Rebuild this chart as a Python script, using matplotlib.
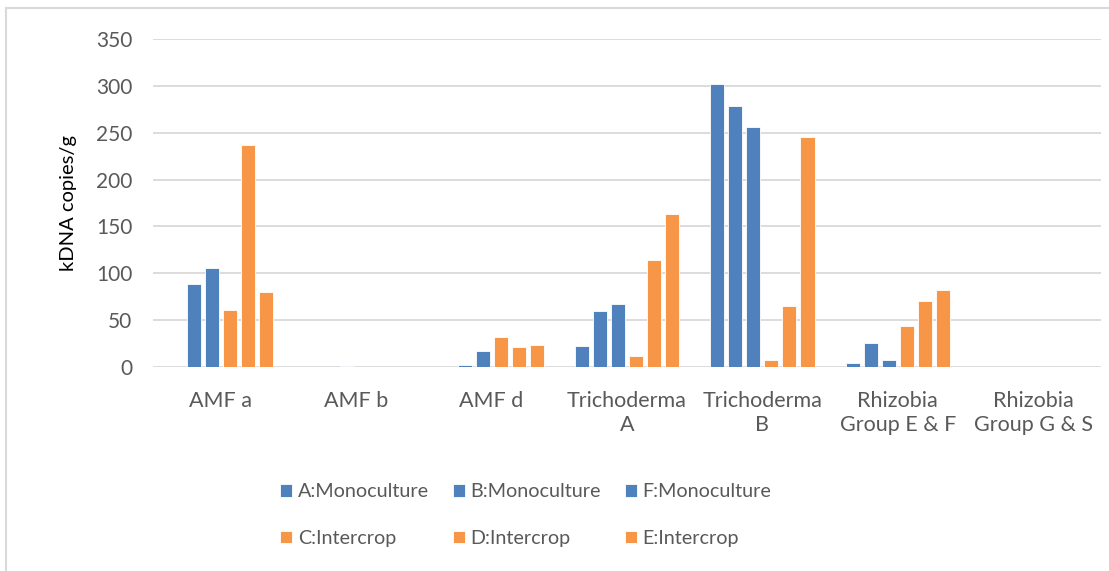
import matplotlib.pyplot as plt
import numpy as np

# Target groups along the x axis
categories = ['AMF a', 'AMF b', 'AMF d', 'Trichoderma\nA', 'Trichoderma\nB',
              'Rhizobia\nGroup E & F', 'Rhizobia\nGroup G & S']

# kDNA copies/g for each treatment
series_names = ['A:Monoculture', 'B:Monoculture', 'F:Monoculture',
                'C:Intercrop', 'D:Intercrop', 'E:Intercrop']
a_mono = [0, 0, 0, 22, 302, 4, 0]
b_mono = [89, 0, 2, 60, 278, 26, 0]
f_mono = [106, 1.5, 17, 67, 256, 7, 0]
c_inter = [61, 0, 32, 12, 8, 44, 0]
d_inter = [237, 0, 21, 114, 65, 70, 0]
e_inter = [80, 0, 24, 163, 245, 82, 0]

series = [a_mono, b_mono, f_mono, c_inter, d_inter, e_inter]
blue = '#4F81BD'
orange = '#F79646'
colors = [blue, blue, blue, orange, orange, orange]

plt.rcParams['font.family'] = ['Lato', 'DejaVu Sans']
grey_text = '#595959'

fig = plt.figure(figsize=(11.09, 5.71), dpi=100)
ax = fig.add_axes([153 / 1109, 1 - 367 / 571, 948 / 1109, 328 / 571])

x = np.arange(len(categories))
step = 0.133
width = 0.104
handles = []
for i, (vals, col) in enumerate(zip(series, colors)):
    offset = (i - 2.5) * step
    b = ax.bar(x + offset, vals, width, color=col, edgecolor='white',
               linewidth=0.6, zorder=3, label=series_names[i])
    handles.append(b)

ax.set_xlim(-0.5, len(categories) - 0.5)
ax.set_ylim(0, 350)
ax.set_yticks(np.arange(0, 351, 50))
ax.set_xticks(x)
ax.set_xticklabels(categories, linespacing=1.3)
ax.tick_params(axis='both', length=0, labelcolor=grey_text)
ax.tick_params(axis='y', pad=15, labelsize=15)
ax.tick_params(axis='x', pad=17, labelsize=15.5)
ax.grid(axis='y', color='#D9D9D9', linewidth=1.3, zorder=0)
for s in ax.spines.values():
    s.set_visible(False)

ax.set_ylabel('kDNA copies/g', fontsize=14.5, color='black')
ax.yaxis.set_label_coords(-0.08, 0.5)

# legend fills column-wise, so order handles to read row by row
order = [0, 3, 1, 4, 2, 5]
fig.legend([handles[k] for k in order], [series_names[k] for k in order],
           ncol=3, loc='center', bbox_to_anchor=(526 / 1109, 1 - 515 / 571),
           frameon=False, fontsize=14.2, labelcolor=grey_text,
           handlelength=0.6, handleheight=0.6, handletextpad=0.3,
           columnspacing=1.2, labelspacing=1.5)

# chart outline along the top and left edge
fig.add_artist(plt.Line2D([6 / 1109, 6 / 1109], [0, 1 - 8 / 571],
                          transform=fig.transFigure, color='#D9D9D9', lw=1.5))
fig.add_artist(plt.Line2D([6 / 1109, 1], [1 - 8 / 571, 1 - 8 / 571],
                          transform=fig.transFigure, color='#D9D9D9', lw=1.5))

fig.savefig('out.png', dpi=100, facecolor='white')
